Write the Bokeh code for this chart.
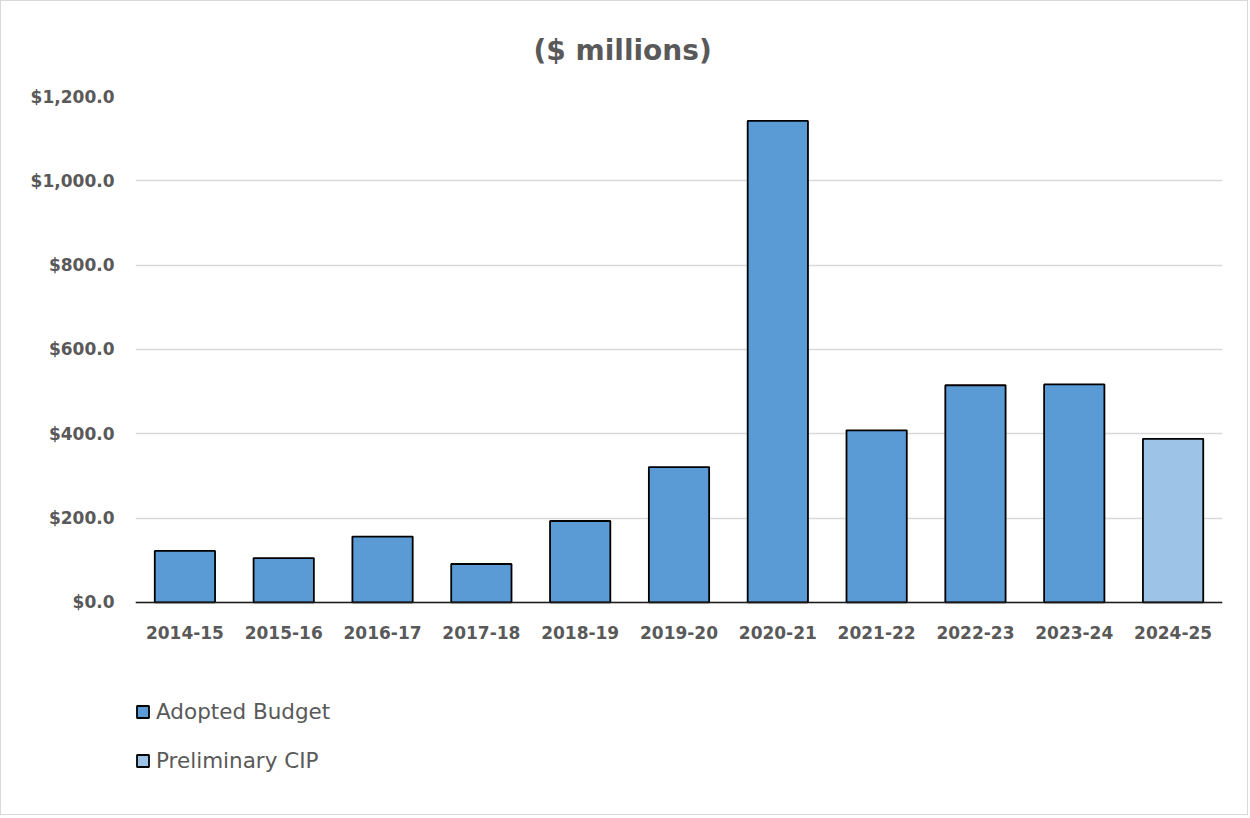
from bokeh.plotting import figure
from bokeh.models import ColumnDataSource, FactorRange, Range1d, Legend, LegendItem, NumeralTickFormatter, FixedTicker
from bokeh.embed import file_html
from bokeh.resources import INLINE

years = ["2014-15", "2015-16", "2016-17", "2017-18", "2018-19", "2019-20",
         "2020-21", "2021-22", "2022-23", "2023-24", "2024-25"]
adopted = [122, 105, 156, 91, 193, 321, 1142, 408, 515, 517, None]
preliminary = [None, None, None, None, None, None, None, None, None, None, 388]
y_ticks = [0, 200, 400, 600, 800, 1000, 1200]

FONT = "DejaVu Sans"
GRAY = "#595959"

# the frame extends below zero so that the legend can sit inside it
p = figure(x_range=FactorRange(*years), y_range=Range1d(-508, 1200),
           width=1248, height=815, output_backend="svg", toolbar_location=None,
           min_border_left=134, min_border_right=27, min_border_top=94, min_border_bottom=0,
           title="($ millions)")
p.styles = {"border": "1px solid #d9d9d9"}

src_a = ColumnDataSource(dict(x=[y for y, v in zip(years, adopted) if v is not None],
                              top=[v for v in adopted if v is not None]))
src_p = ColumnDataSource(dict(x=[y for y, v in zip(years, preliminary) if v is not None],
                              top=[v for v in preliminary if v is not None]))

ra = p.vbar(x="x", top="top", bottom=0, width=0.61, source=src_a, fill_color="#5b9bd5",
            line_color="black", line_width=1.8)
rp = p.vbar(x="x", top="top", bottom=0, width=0.61, source=src_p, fill_color="#9dc3e6",
            line_color="black", line_width=1.8)

p.title.align = "left"
p.title.offset = 398
p.title.text_font = FONT
p.title.text_font_size = "28px"
p.title.text_font_style = "bold"
p.title.text_color = GRAY
p.title.standoff = 60

p.outline_line_color = None
p.xgrid.grid_line_color = None
p.ygrid.grid_line_color = "#d9d9d9"
p.ygrid.grid_line_width = 1.5

p.yaxis.ticker = FixedTicker(ticks=y_ticks)
p.yaxis.formatter = NumeralTickFormatter(format="$0,0.0")
p.yaxis.axis_line_color = None
p.yaxis.major_tick_line_color = None
p.yaxis.minor_tick_line_color = None
p.yaxis.major_label_standoff = 15
p.yaxis.major_label_text_font = FONT
p.yaxis.major_label_text_font_size = "17px"
p.yaxis.major_label_text_font_style = "bold"
p.yaxis.major_label_text_color = GRAY

p.xaxis.fixed_location = 0
p.xaxis.axis_line_color = "#1a1a1a"
p.xaxis.axis_line_width = 1.5
p.xaxis.major_tick_line_color = None
p.xaxis.minor_tick_line_color = None
p.xaxis.major_label_standoff = 18
p.xaxis.major_label_text_font = FONT
p.xaxis.major_label_text_font_size = "17px"
p.xaxis.major_label_text_font_style = "bold"
p.xaxis.major_label_text_color = GRAY

legend = Legend(items=[LegendItem(label="Adopted Budget", renderers=[ra]),
                       LegendItem(label="Preliminary CIP", renderers=[rp])],
                location=(0, 43), orientation="vertical",
                glyph_width=15, glyph_height=15, label_standoff=6,
                label_height=20, spacing=24, padding=0, margin=0,
                border_line_color=None, background_fill_alpha=0,
                label_text_font=FONT, label_text_font_size="21.5px",
                label_text_color=GRAY)
p.add_layout(legend, "center")

open("out.html", "w").write(file_html(p, INLINE))
